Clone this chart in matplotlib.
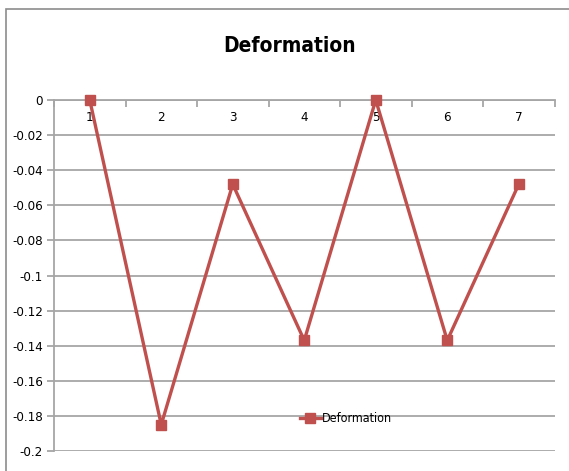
import matplotlib
matplotlib.use("Agg")
import matplotlib.pyplot as plt
from matplotlib.lines import Line2D
from matplotlib.patches import Rectangle
from matplotlib.font_manager import FontProperties
import numpy as np

categories = ["1", "2", "3", "4", "5", "6", "7"]
deformation = [0.0, -0.185, -0.048, -0.137, 0.0, -0.137, -0.048]
yticks = [0, -0.02, -0.04, -0.06, -0.08, -0.1, -0.12, -0.14, -0.16, -0.18, -0.2]
ytick_labels = ["0", "-0.02", "-0.04", "-0.06", "-0.08", "-0.1", "-0.12", "-0.14", "-0.16", "-0.18", "-0.2"]

RED = "#C0504D"
GRID = "#A6A6A6"


def fp(size, weight="normal"):
    return FontProperties(family=["DejaVu Sans"], stretch="condensed", size=size, weight=weight)


W, H = 569, 471
fig = plt.figure(figsize=(W / 100, H / 100), dpi=100)
fig.patch.set_facecolor("white")

# outer chart border
fig.add_artist(Rectangle((6 / W, -0.05), 1.2, 1 - 9 / H + 0.05, transform=fig.transFigure,
                         fill=False, edgecolor="#8C8C8C", linewidth=1.2))

ax = fig.add_axes([54 / W, 1 - 451 / H, (554.5 - 54) / W, 351 / H])
x = np.arange(1, len(categories) + 1)

ax.set_xlim(0.5, len(categories) + 0.5)
ax.set_ylim(-0.2, 0)

ax.set_yticks(yticks)
ax.set_yticklabels(ytick_labels, fontproperties=fp(9.5))
ax.yaxis.grid(True, color=GRID, linewidth=1.3)
ax.set_axisbelow(True)

for s in ["top", "right"]:
    ax.spines[s].set_visible(False)
ax.spines["left"].set_color(GRID)
ax.spines["left"].set_linewidth(1.3)
ax.spines["bottom"].set_position(("data", 0))
ax.spines["bottom"].set_color(GRID)
ax.spines["bottom"].set_linewidth(1.3)

ax.set_xticks(np.arange(0.5, len(categories) + 1, 1.0))
ax.set_xticklabels([])
ax.set_xticks(x, minor=True)
ax.set_xticklabels(categories, minor=True, fontproperties=fp(9.5))
ax.tick_params(axis="x", which="major", direction="out", length=5, color=GRID, width=1.3)
ax.tick_params(axis="x", which="minor", length=0, pad=8)
ax.tick_params(axis="y", direction="out", length=5, color=GRID, width=1.3, pad=3)

ax.plot(x, deformation, color=RED, linewidth=2.4, marker="s", markersize=7.5,
        markerfacecolor=RED, markeredgecolor=RED, clip_on=False, zorder=5)

fig.text(290 / W, 1 - 46 / H, "Deformation", ha="center", va="center",
         fontproperties=fp(15, "bold"))

leg_handle = Line2D([], [], color=RED, linewidth=2.4, marker="s", markersize=7.5)
ax.legend([leg_handle], ["Deformation"], loc="center", bbox_to_anchor=(346 / W, 1 - 419 / H),
          bbox_transform=fig.transFigure, frameon=False, prop=fp(9),
          handlelength=1.7, handletextpad=0.1, borderpad=0)

fig.savefig("out.png", dpi=100, facecolor="white")
